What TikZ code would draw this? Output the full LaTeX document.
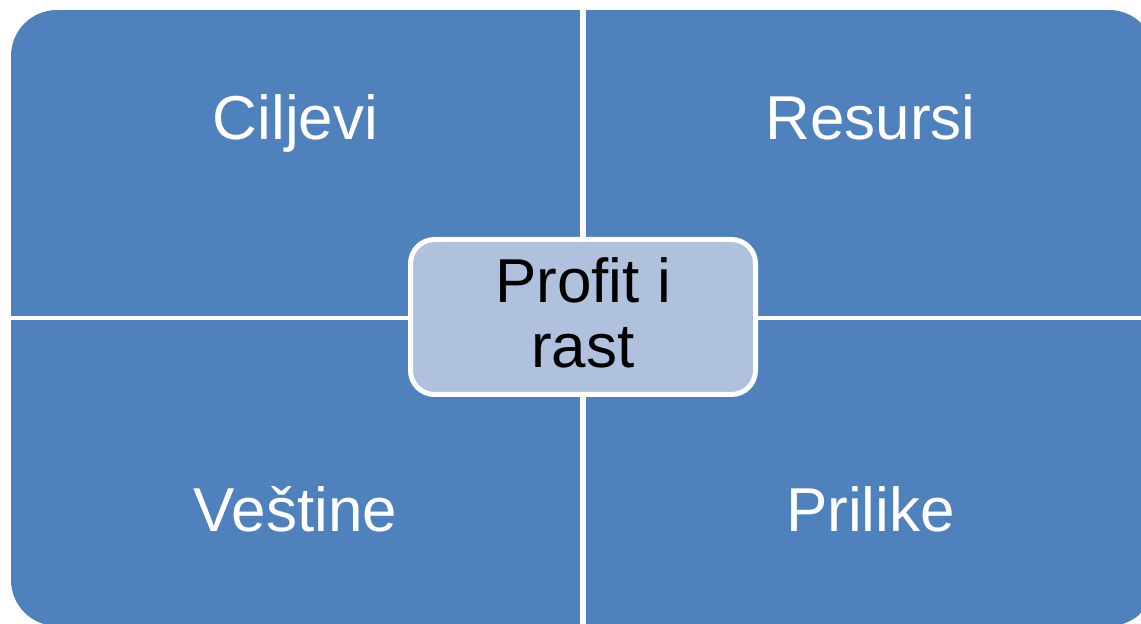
\documentclass[tikz,border=0pt]{standalone}
\usepackage{fontspec}
\setmainfont{Liberation Sans}
\definecolor{quadblue}{RGB}{79,129,189}
\definecolor{centerfill}{RGB}{176,193,221}
\tikzset{
  quad/.style={fill=quadblue},
  quadtext/.style={text=white, anchor=base, inner sep=0pt, font=\fontsize{62}{65}\selectfont},
  centerbox/.style={draw=white, line width=5pt, fill=centerfill, rounded corners=24pt,
    minimum width=345pt, minimum height=155pt, inner sep=0pt},
  centertext/.style={text=black, align=center, inner sep=0pt, font=\fontsize{62}{65}\selectfont}
}
\begin{document}
\begin{tikzpicture}[x=1pt,y=1pt]
\useasboundingbox (0,0) rectangle (1141,624);
\begin{scope}
  \clip[rounded corners=46pt] (11,-2) rectangle (1155,614);
  \fill[quad] (11,308) rectangle (580,614);
  \fill[quad] (586,308) rectangle (1155,614);
  \fill[quad] (11,-2) rectangle (580,304);
  \fill[quad] (586,-2) rectangle (1155,304);
\end{scope}
\node[quadtext] (ciljevi) at (295.5,484) {Ciljevi};
\node[quadtext] (resursi) at (870.5,484) {Resursi};
\node[quadtext] (vestine) at (295.5,92) {Veštine};
\node[quadtext] (prilike) at (870.5,92) {Prilike};
\node[centerbox] (center) at (583,307) {};
\node[centertext] (centerlabel) at ([yshift=4pt]center.center) {Profit i\\rast};
\end{tikzpicture}
\end{document}
